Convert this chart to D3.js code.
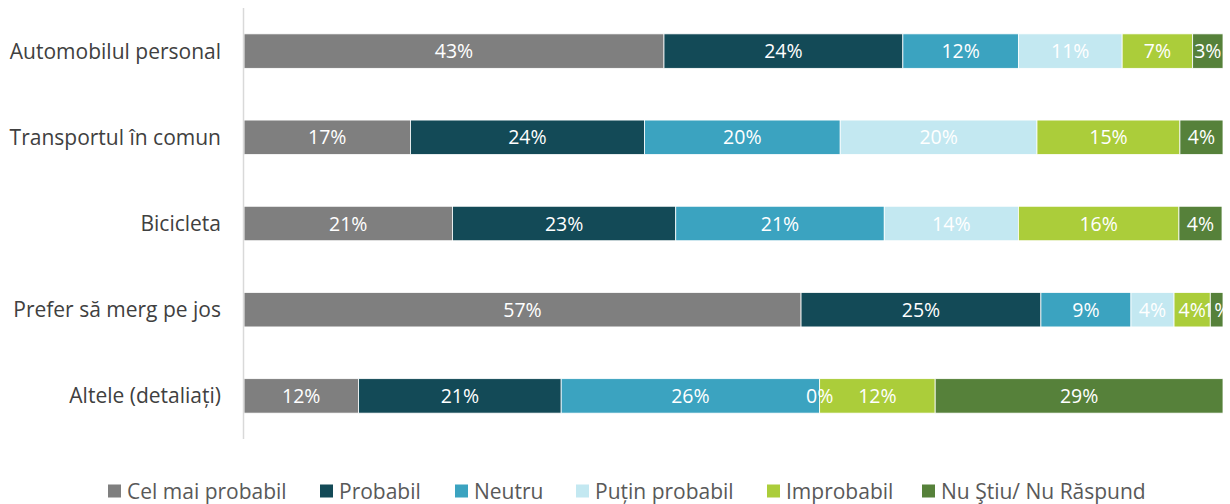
<!DOCTYPE html>
<html><head><meta charset="utf-8">
<script src="https://cdn.jsdelivr.net/npm/d3@7"></script>
<style>
body{margin:0;background:#fff;}
text{font-family:"Open Sans","Noto Sans",sans-serif;}
</style></head>
<body>
<svg id="chart" width="1230" height="504"></svg>
<script>
const categories = ["Automobilul personal","Transportul în comun","Bicicleta","Prefer să merg pe jos","Altele (detaliați)"];
const seriesNames = ["Cel mai probabil","Probabil","Neutru","Puțin probabil","Improbabil","Nu Ştiu/ Nu Răspund"];
const celMaiProbabil = [42.9,17.0,21.3,56.9,11.7];
const probabil       = [24.4,23.9,22.8,24.5,20.7];
const neutru         = [11.8,20.0,21.3,9.2,26.4];
const putinProbabil  = [10.6,20.1,13.7,4.4,0.0];
const improbabil     = [7.2,14.6,16.4,3.7,11.8];
const nuStiu         = [3.1,4.4,4.4,1.3,29.4];
const colors = ["#7f7f7f","#134a57","#3ba3c0","#c3e8f1","#abcd3a","#56813a"];

const seriesVals = [celMaiProbabil,probabil,neutru,putinProbabil,improbabil,nuStiu];
const data = categories.map((c,i)=>{const o={cat:c}; seriesNames.forEach((s,j)=>o[s]=seriesVals[j][i]); return o;});
const stack = d3.stack().keys(seriesNames)(data);

const svg = d3.select("#chart");
const x = d3.scaleLinear().domain([0,100]).range([244,1223]);
const y = d3.scaleBand().domain(categories).range([8,439]).paddingInner(0.6).paddingOuter(0.3);

svg.append("g").selectAll("g").data(stack).join("g")
  .attr("fill",(d,i)=>colors[i])
  .selectAll("rect").data(d=>d).join("rect")
    .attr("x",d=>x(d[0])).attr("width",d=>Math.max(0,x(d[1])-x(d[0])))
    .attr("y",d=>y(d.data.cat)).attr("height",y.bandwidth())
    .attr("stroke","#fff").attr("stroke-width",0.8);

svg.append("g").selectAll("g").data(stack).join("g")
  .selectAll("text").data(d=>d).join("text")
    .attr("x",d=>(x(d[0])+x(d[1]))/2)
    .attr("y",d=>y(d.data.cat)+y.bandwidth()/2)
    .attr("dy","0.36em").attr("text-anchor","middle")
    .attr("fill","#fff").attr("font-size",19.5)
    .text(d=>Math.round(d[1]-d[0])+"%");

// axis line
svg.append("line").attr("x1",243.5).attr("x2",243.5).attr("y1",8).attr("y2",439)
  .attr("stroke","#d9d9d9").attr("stroke-width",1.5);

// category labels
svg.append("g").selectAll("text").data(categories).join("text")
  .attr("x",221).attr("y",d=>y(d)+y.bandwidth()/2).attr("dy","0.36em")
  .attr("text-anchor","end").attr("fill","#404040").attr("font-size",21)
  .text(d=>d);

// legend
const legX = [108,320,455,576,767,922];
const lg = svg.append("g").selectAll("g").data(seriesNames).join("g")
  .attr("transform",(d,i)=>`translate(${legX[i]},491)`);
lg.append("rect").attr("x",0).attr("y",-6.5).attr("width",13).attr("height",13).attr("fill",(d,i)=>colors[i]);
lg.append("text").attr("x",19).attr("y",0).attr("dy","0.36em").attr("fill","#595959").attr("font-size",21).text(d=>d);
</script>
</body></html>
